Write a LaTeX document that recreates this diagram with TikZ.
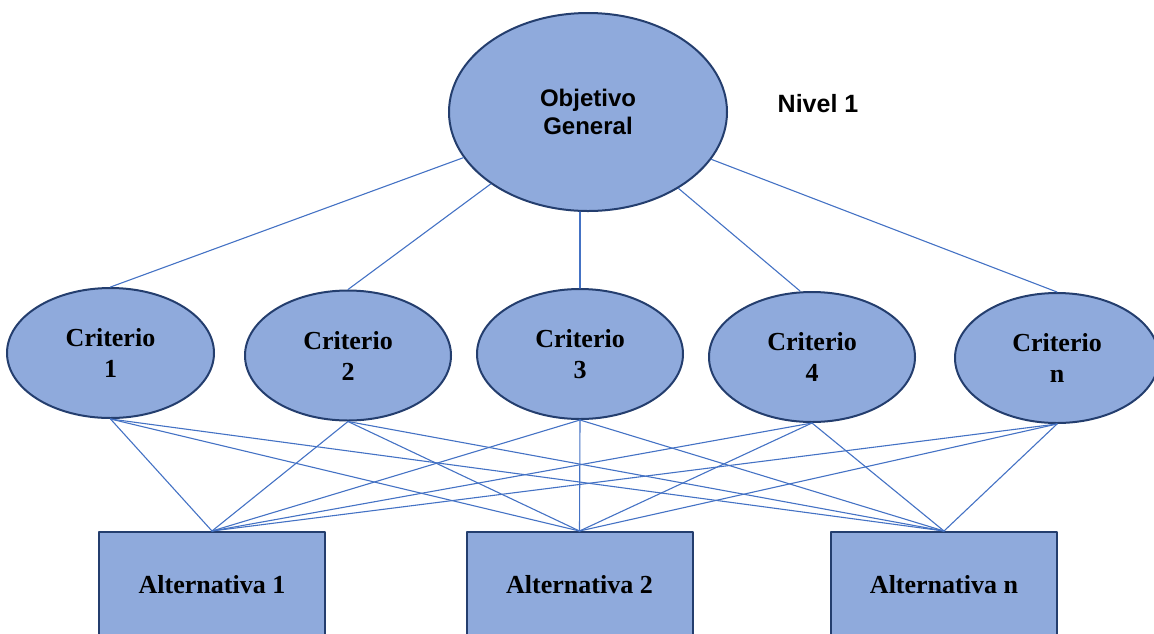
\documentclass[tikz,border=0pt]{standalone}
\usepackage{fontspec}
\setmainfont{Liberation Serif}
\newfontfamily\arialfont{Liberation Sans}
\usepackage{tikz}
\usetikzlibrary{shapes.geometric}
\usepackage{xcolor}
\definecolor{boxblue}{RGB}{143, 170, 220}
\definecolor{edgenavy}{RGB}{36, 62, 110}
\definecolor{linkblue}{RGB}{68, 114, 196}

\begin{document}
\begin{tikzpicture}[x=1pt, y=-1pt, line cap=round, line join=round,
    goal/.style={ellipse, draw=edgenavy, fill=boxblue, line width=2pt, inner sep=0pt,
        minimum width=278pt, minimum height=198pt, align=center,
        font=\arialfont\bfseries\fontsize{24}{28}\selectfont},
    crit/.style={ellipse, draw=edgenavy, fill=boxblue, line width=2pt, inner sep=0pt,
        minimum width=206pt, minimum height=130pt, align=center,
        font=\bfseries\fontsize{26}{31}\selectfont},
    alt/.style={rectangle, draw=edgenavy, fill=boxblue, line width=2pt, inner sep=0pt,
        minimum width=226pt, minimum height=106pt,
        font=\bfseries\fontsize{26}{31}\selectfont},
    link/.style={linkblue, line width=1.1pt}]
    	\useasboundingbox (0,0) rectangle (1154,633);
    	\clip (0,0) rectangle (1154,633);

    	\node[goal] (obj) at (588,112) {Objetivo\\General};
    	\node[font=\arialfont\bfseries\fontsize{25}{30}\selectfont] (nivel) at (818,104) {Nivel 1};

    	\node[crit, minimum width=207pt] (c1) at (110.5,353) {Criterio\\1};
    	\node[crit] (c2) at (348,355.5) {Criterio\\2};
    	\node[crit] (c3) at (580,354) {Criterio\\3};
    	\node[crit] (c4) at (812,357) {Criterio\\4};
    	\node[crit, minimum width=204pt] (cn) at (1057,358) {Criterio\\n};

    	\node[alt] (a1) at (212,585) {Alternativa 1};
    	\node[alt] (a2) at (579.5,585) {Alternativa 2};
    	\node[alt] (an) at (944,585) {Alternativa n};

		\draw [link] (obj)--(c1.north);
		\draw [link] (obj)--(c2.north);
		\draw [link] (obj.south -| c3.north)--(c3.north);
		\draw [link] (obj)--([xshift=-12pt]c4.north);
		\draw [link] (obj)--(cn.north);

		\draw [link] (c1.south)--(a1.north);
		\draw [link] (c1.south)--(a2.north);
		\draw [link] (c1.south)--(an.north);
		\draw [link] (c2.south)--(a1.north);
		\draw [link] (c2.south)--(a2.north);
		\draw [link] (c2.south)--(an.north);
		\draw [link] (c3.south)--(a1.north);
		\draw [link] (c3.south)--(a2.north);
		\draw [link] (c3.south)--(an.north);
		\draw [link] (c4.south)--(a1.north);
		\draw [link] (c4.south)--(a2.north);
		\draw [link] (c4.south)--(an.north);
		\draw [link] (cn.south)--(a1.north);
		\draw [link] (cn.south)--(a2.north);
		\draw [link] (cn.south)--(an.north);
    \end{tikzpicture}
\end{document}
